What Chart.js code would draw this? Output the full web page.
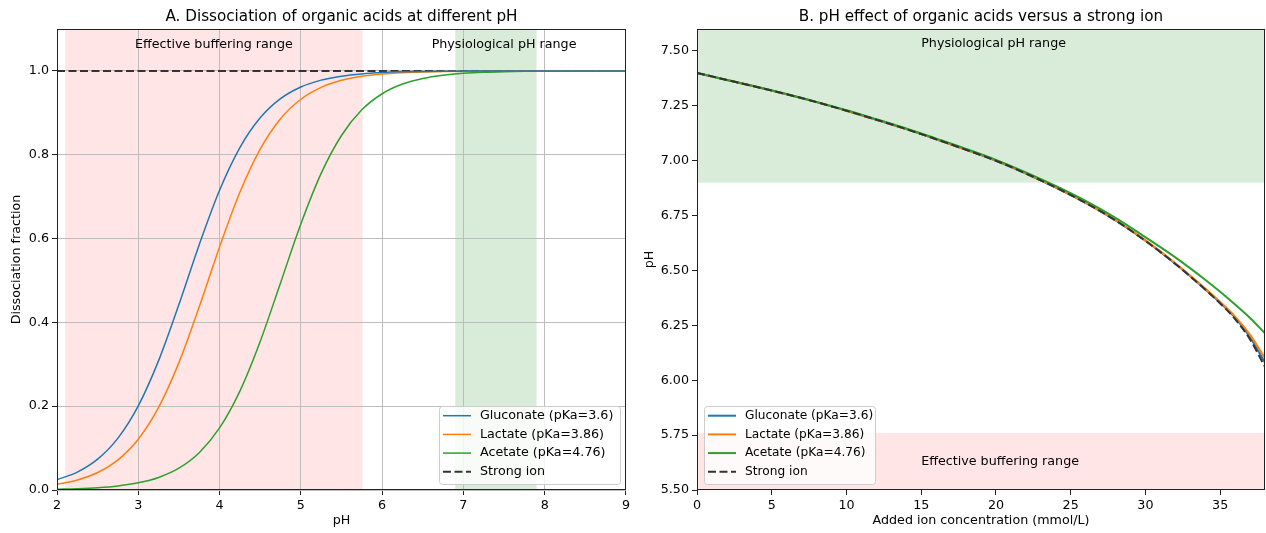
<!DOCTYPE html>
<html>
<head>
<meta charset="utf-8">
<title>Organic acids vs strong ion</title>
<script src="https://cdn.jsdelivr.net/npm/chart.js@4"></script>
<style>
  html, body { margin: 0; padding: 0; background: #fff; }
  body { width: 1266px; height: 533px; position: relative; overflow: hidden; }
  .panel { position: absolute; top: 0; width: 633px; height: 533px; }
</style>
</head>
<body>
<div class="panel" style="left:0"><canvas id="left" width="633" height="533"></canvas></div>
<div class="panel" style="left:633px"><canvas id="right" width="633" height="533"></canvas></div>
<script>
// ---- panel A: dissociation fraction vs pH ----
const phValues = [2.0, 2.25, 2.5, 2.75, 3.0, 3.25, 3.5, 3.75, 4.0, 4.25, 4.5, 4.75, 5.0, 5.25, 5.5,
  5.75, 6.0, 6.25, 6.5, 6.75, 7.0, 7.25, 7.5, 7.75, 8.0, 8.25, 8.5, 8.75, 9.0];
const gluconateFraction = [0.0245, 0.0427, 0.0736, 0.1238, 0.2008, 0.3087, 0.4427, 0.5855, 0.7153, 0.8171,
  0.8882, 0.9339, 0.9617, 0.9781, 0.9876, 0.9930, 0.9960, 0.9978, 0.9987, 0.9993, 0.9996, 0.9998, 0.9999,
  0.9999, 1.0, 1.0, 1.0, 1.0, 1.0];
const lactateFraction = [0.0136, 0.0240, 0.0418, 0.0720, 0.1213, 0.1971, 0.3039, 0.4370, 0.5800, 0.7105,
  0.8136, 0.8859, 0.9325, 0.9609, 0.9776, 0.9873, 0.9928, 0.9959, 0.9977, 0.9987, 0.9993, 0.9996, 0.9998,
  0.9999, 0.9999, 1.0, 1.0, 1.0, 1.0];
const acetateFraction = [0.0017, 0.0031, 0.0055, 0.0097, 0.0171, 0.0300, 0.0521, 0.0890, 0.1481, 0.2361,
  0.3546, 0.4942, 0.6347, 0.7555, 0.8460, 0.9072, 0.9456, 0.9687, 0.9821, 0.9899, 0.9943, 0.9968, 0.9982,
  0.9990, 0.9994, 0.9997, 0.9998, 0.9999, 0.9999];
const strongIonPhA = [2, 9];
const strongIonFraction = [1, 1];

// ---- panel B: pH vs added ion concentration ----
const ionConc = [0, 2, 4, 6, 8, 10, 12, 14, 16, 18, 20, 22, 24, 26, 28, 30, 32, 34, 35, 36, 37, 38];
const gluconatePh = [7.400, 7.368, 7.336, 7.303, 7.267, 7.228, 7.187, 7.144, 7.098, 7.050, 7.000, 6.942,
  6.878, 6.808, 6.728, 6.636, 6.531, 6.415, 6.353, 6.285, 6.196, 6.080];
const lactatePh = [7.400, 7.368, 7.336, 7.303, 7.267, 7.228, 7.187, 7.144, 7.098, 7.050, 7.001, 6.943,
  6.879, 6.809, 6.729, 6.637, 6.533, 6.418, 6.357, 6.290, 6.207, 6.100];
const acetatePh = [7.400, 7.368, 7.337, 7.304, 7.268, 7.230, 7.189, 7.147, 7.101, 7.054, 7.004, 6.947,
  6.885, 6.817, 6.740, 6.652, 6.560, 6.458, 6.403, 6.345, 6.284, 6.214];
const strongIonPhB = [7.400, 7.368, 7.336, 7.303, 7.267, 7.228, 7.187, 7.144, 7.098, 7.050, 7.000, 6.942,
  6.878, 6.808, 6.728, 6.635, 6.530, 6.413, 6.350, 6.279, 6.186, 6.060];

const seriesLabels = ['Gluconate (pKa=3.6)', 'Lactate (pKa=3.86)', 'Acetate (pKa=4.76)', 'Strong ion'];
const seriesColors = ['#1f77b4', '#ff7f0e', '#2ca02c', '#333333'];

// shaded ranges
const bufferRangeA = [2.1, 5.76];
const physioRangeA = [6.9, 7.9];
const physioRangeB = [6.9, 7.6];
const bufferRangeB = [5.5, 5.76];

const FONT = 'DejaVu Sans';
const FS = 12.7;
const PINK = 'rgba(255,0,0,0.1)';
const GREEN = 'rgba(0,128,0,0.15)';

Chart.defaults.font.family = FONT;
Chart.defaults.color = '#000';

function pts(xs, ys) {
  return xs.map((x, i) => ({ x: x, y: ys[i] }));
}

// shaded spans + text notes, drawn under the grid
const spans = {
  id: 'spans',
  beforeDraw(chart, args, opts) {
    const { ctx, chartArea: a, scales } = chart;
    ctx.save();
    (opts.bands || []).forEach(b => {
      ctx.fillStyle = b.color;
      if (b.axis === 'x') {
        const x0 = scales.x.getPixelForValue(b.from), x1 = scales.x.getPixelForValue(b.to);
        ctx.fillRect(x0, a.top, x1 - x0, a.bottom - a.top);
      } else {
        const y0 = scales.y.getPixelForValue(b.to), y1 = scales.y.getPixelForValue(b.from);
        ctx.fillRect(a.left, y0, a.right - a.left, y1 - y0);
      }
    });
    ctx.restore();
  },
  afterDatasetsDraw(chart, args, opts) {
    const { ctx, scales } = chart;
    ctx.save();
    ctx.font = FS + 'px "' + FONT + '"';
    ctx.fillStyle = '#000';
    ctx.textBaseline = 'middle';
    (opts.notes || []).forEach(n => {
      ctx.textAlign = n.align || 'center';
      ctx.fillText(n.text, scales.x.getPixelForValue(n.x), scales.y.getPixelForValue(n.y));
    });
    ctx.restore();
  }
};

// axes frame and matplotlib-like legend box
const frameLegend = {
  id: 'frameLegend',
  afterDraw(chart, args, opts) {
    const { ctx, chartArea: a } = chart;
    ctx.save();
    ctx.strokeStyle = '#222';
    ctx.lineWidth = 1;
    ctx.strokeRect(Math.round(a.left) + 0.5, Math.round(a.top) + 0.5,
      Math.round(a.right - a.left) - 1, Math.round(a.bottom - a.top) - 1);

    const w = opts.width, h = 78;
    const x0 = opts.side === 'left' ? a.left + 7 : a.right - 6 - w;
    const y0 = a.bottom - 6 - h;
    ctx.beginPath();
    ctx.roundRect(x0 + 0.5, y0 + 0.5, w, h, 3);
    ctx.fillStyle = 'rgba(255,255,255,0.8)';
    ctx.fill();
    ctx.strokeStyle = '#cccccc';
    ctx.stroke();
    ctx.font = opts.fontSize + 'px "' + FONT + '"';
    ctx.textBaseline = 'middle';
    ctx.textAlign = 'left';
    chart.data.datasets.forEach((ds, i) => {
      const y = y0 + 9.7 + i * 18.7;
      ctx.beginPath();
      ctx.setLineDash(ds.borderDash || []);
      ctx.strokeStyle = ds.borderColor;
      ctx.lineWidth = ds.borderWidth;
      ctx.moveTo(x0 + 4, y);
      ctx.lineTo(x0 + 32, y);
      ctx.stroke();
      ctx.setLineDash([]);
      ctx.fillStyle = '#000';
      ctx.fillText(ds.label, x0 + 41, y);
    });
    ctx.restore();
  }
};

function lineSet(label, color, data, width, extra) {
  return Object.assign({
    label: label,
    data: data,
    borderColor: color,
    backgroundColor: color,
    borderWidth: width,
    pointRadius: 0,
    cubicInterpolationMode: 'monotone',
    fill: false
  }, extra || {});
}

function baseOptions(title, xTitle, yTitle, yWidth) {
  return {
    responsive: false,
    devicePixelRatio: 1,
    animation: false,
    events: [],
    layout: { padding: { left: 0, right: 7, top: 0, bottom: 0 } },
    plugins: {
      legend: { display: false },
      tooltip: { enabled: false },
      title: {
        display: true, text: title, fullSize: false, color: '#000',
        font: { family: FONT, size: 15.2, weight: 'normal' },
        padding: { top: 8, bottom: 2.8 }
      }
    },
    scales: {
      x: {
        type: 'linear',
        title: { display: true, text: xTitle, color: '#000', font: { size: FS }, padding: { top: 0, bottom: 4.3 } },
        ticks: { color: '#000', font: { size: FS }, padding: 3, includeBounds: false, maxRotation: 0 },
        border: { display: false },
        afterFit(s) { s.height = 43; }
      },
      y: {
        type: 'linear',
        title: { display: true, text: yTitle, color: '#000', font: { size: FS }, padding: { top: 9.4, bottom: 0 } },
        ticks: { color: '#000', font: { size: FS }, padding: 3, includeBounds: false },
        border: { display: false },
        afterFit(s) { s.width = yWidth; }
      }
    }
  };
}

// ---- chart A ----
const optA = baseOptions('A. Dissociation of organic acids at different pH', 'pH', 'Dissociation fraction', 57);
optA.scales.x.min = 2; optA.scales.x.max = 9;
optA.scales.x.ticks.stepSize = 1;
optA.scales.x.grid = { color: '#bdbdbd', lineWidth: 1, tickColor: '#222', tickLength: 5 };
optA.scales.y.min = 0; optA.scales.y.max = 1.1;
optA.scales.y.ticks.stepSize = 0.2;
optA.scales.y.ticks.callback = v => v.toFixed(1);
optA.scales.y.grid = { color: '#bdbdbd', lineWidth: 1, tickColor: '#222', tickLength: 5 };
optA.plugins.spans = {
  bands: [
    { axis: 'x', from: bufferRangeA[0], to: bufferRangeA[1], color: PINK },
    { axis: 'x', from: physioRangeA[0], to: physioRangeA[1], color: GREEN }
  ],
  notes: [
    { x: (bufferRangeA[0] + bufferRangeA[1]) / 2, y: 1.062, text: 'Effective buffering range' },
    { x: 7.5, y: 1.062, text: 'Physiological pH range' }
  ]
};
optA.plugins.frameLegend = { width: 181, side: 'right', fontSize: FS };

new Chart(document.getElementById('left'), {
  type: 'line',
  data: {
    datasets: [
      lineSet(seriesLabels[0], seriesColors[0], pts(phValues, gluconateFraction), 1.5),
      lineSet(seriesLabels[1], seriesColors[1], pts(phValues, lactateFraction), 1.5),
      lineSet(seriesLabels[2], seriesColors[2], pts(phValues, acetateFraction), 1.5),
      lineSet(seriesLabels[3], seriesColors[3], pts(strongIonPhA, strongIonFraction), 2, { borderDash: [8, 3.5] })
    ]
  },
  options: optA,
  plugins: [spans, frameLegend]
});

// ---- chart B ----
const optB = baseOptions('B. pH effect of organic acids versus a strong ion', 'Added ion concentration (mmol/L)', 'pH', 64);
optB.layout.padding.right = 1;
optB.scales.x.min = 0; optB.scales.x.max = 38;
optB.scales.x.ticks.stepSize = 5;
optB.scales.x.grid = { drawOnChartArea: false, tickColor: '#222', tickLength: 5 };
optB.scales.y.min = 5.5; optB.scales.y.max = 7.6;
optB.scales.y.ticks.stepSize = 0.25;
optB.scales.y.ticks.callback = v => v.toFixed(2);
optB.scales.y.grid = { drawOnChartArea: false, tickColor: '#222', tickLength: 5 };
optB.plugins.spans = {
  bands: [
    { axis: 'y', from: physioRangeB[0], to: physioRangeB[1], color: GREEN },
    { axis: 'y', from: bufferRangeB[0], to: bufferRangeB[1], color: PINK }
  ],
  notes: [
    { x: 15, y: 7.532, text: 'Physiological pH range', align: 'left' },
    { x: 15, y: 5.627, text: 'Effective buffering range', align: 'left' }
  ]
};
optB.plugins.frameLegend = { width: 171, side: 'left', fontSize: 12.2 };

new Chart(document.getElementById('right'), {
  type: 'line',
  data: {
    datasets: [
      lineSet(seriesLabels[0], seriesColors[0], pts(ionConc, gluconatePh), 2, { order: 3 }),
      lineSet(seriesLabels[1], seriesColors[1], pts(ionConc, lactatePh), 2, { order: 2 }),
      lineSet(seriesLabels[2], seriesColors[2], pts(ionConc, acetatePh), 2, { order: 1 }),
      lineSet(seriesLabels[3], seriesColors[3], pts(ionConc, strongIonPhB), 2, { order: 0, borderDash: [8, 3.5] })
    ]
  },
  options: optB,
  plugins: [spans, frameLegend]
});
</script>
</body>
</html>
